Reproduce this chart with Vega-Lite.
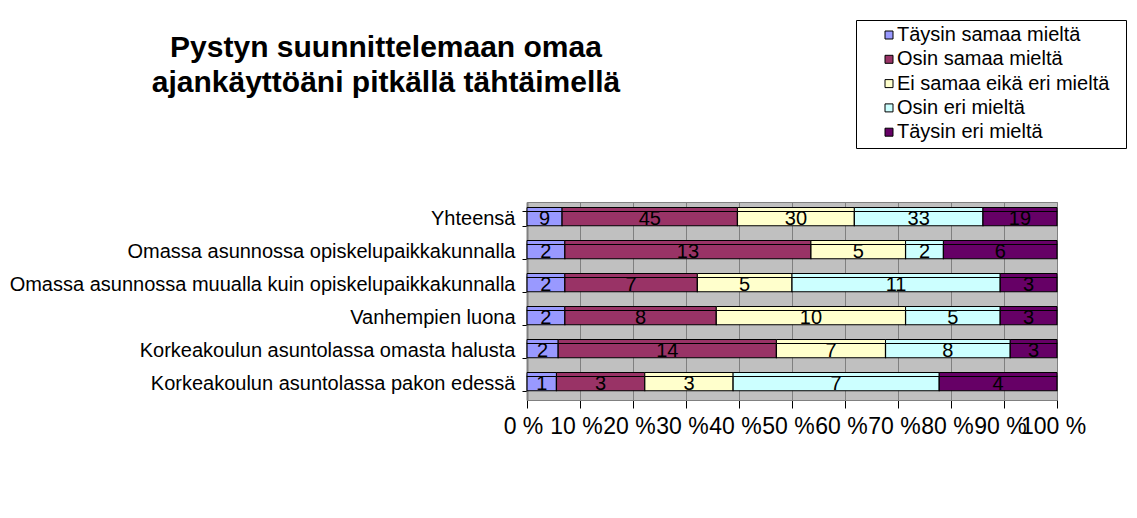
{
  "$schema": "https://vega.github.io/schema/vega-lite/v6.json",
  "autosize": {"type": "none"},
  "width": 530,
  "height": 198,
  "padding": {"left": 527, "top": 202, "right": 80, "bottom": 118},
  "background": "white",
  "title": {
    "text": ["Pystyn suunnittelemaan omaa", "ajankäyttöäni pitkällä tähtäimellä"],
    "anchor": "middle",
    "frame": "group",
    "dx": -406,
    "offset": -78,
    "fontSize": 30,
    "lineHeight": 35,
    "font": "Liberation Sans",
    "fontWeight": "bold",
    "color": "black"
  },
  "data": {
    "values": [
      {"cat": "Yhteensä", "resp": "Täysin samaa mieltä", "n": 9},
      {"cat": "Yhteensä", "resp": "Osin samaa mieltä", "n": 45},
      {"cat": "Yhteensä", "resp": "Ei samaa eikä eri mieltä", "n": 30},
      {"cat": "Yhteensä", "resp": "Osin eri mieltä", "n": 33},
      {"cat": "Yhteensä", "resp": "Täysin eri mieltä", "n": 19},
      {"cat": "Omassa asunnossa opiskelupaikkakunnalla", "resp": "Täysin samaa mieltä", "n": 2},
      {"cat": "Omassa asunnossa opiskelupaikkakunnalla", "resp": "Osin samaa mieltä", "n": 13},
      {"cat": "Omassa asunnossa opiskelupaikkakunnalla", "resp": "Ei samaa eikä eri mieltä", "n": 5},
      {"cat": "Omassa asunnossa opiskelupaikkakunnalla", "resp": "Osin eri mieltä", "n": 2},
      {"cat": "Omassa asunnossa opiskelupaikkakunnalla", "resp": "Täysin eri mieltä", "n": 6},
      {"cat": "Omassa asunnossa muualla kuin opiskelupaikkakunnalla", "resp": "Täysin samaa mieltä", "n": 2},
      {"cat": "Omassa asunnossa muualla kuin opiskelupaikkakunnalla", "resp": "Osin samaa mieltä", "n": 7},
      {"cat": "Omassa asunnossa muualla kuin opiskelupaikkakunnalla", "resp": "Ei samaa eikä eri mieltä", "n": 5},
      {"cat": "Omassa asunnossa muualla kuin opiskelupaikkakunnalla", "resp": "Osin eri mieltä", "n": 11},
      {"cat": "Omassa asunnossa muualla kuin opiskelupaikkakunnalla", "resp": "Täysin eri mieltä", "n": 3},
      {"cat": "Vanhempien luona", "resp": "Täysin samaa mieltä", "n": 2},
      {"cat": "Vanhempien luona", "resp": "Osin samaa mieltä", "n": 8},
      {"cat": "Vanhempien luona", "resp": "Ei samaa eikä eri mieltä", "n": 10},
      {"cat": "Vanhempien luona", "resp": "Osin eri mieltä", "n": 5},
      {"cat": "Vanhempien luona", "resp": "Täysin eri mieltä", "n": 3},
      {"cat": "Korkeakoulun asuntolassa omasta halusta", "resp": "Täysin samaa mieltä", "n": 2},
      {"cat": "Korkeakoulun asuntolassa omasta halusta", "resp": "Osin samaa mieltä", "n": 14},
      {"cat": "Korkeakoulun asuntolassa omasta halusta", "resp": "Ei samaa eikä eri mieltä", "n": 7},
      {"cat": "Korkeakoulun asuntolassa omasta halusta", "resp": "Osin eri mieltä", "n": 8},
      {"cat": "Korkeakoulun asuntolassa omasta halusta", "resp": "Täysin eri mieltä", "n": 3},
      {"cat": "Korkeakoulun asuntolassa pakon edessä", "resp": "Täysin samaa mieltä", "n": 1},
      {"cat": "Korkeakoulun asuntolassa pakon edessä", "resp": "Osin samaa mieltä", "n": 3},
      {"cat": "Korkeakoulun asuntolassa pakon edessä", "resp": "Ei samaa eikä eri mieltä", "n": 3},
      {"cat": "Korkeakoulun asuntolassa pakon edessä", "resp": "Osin eri mieltä", "n": 7},
      {"cat": "Korkeakoulun asuntolassa pakon edessä", "resp": "Täysin eri mieltä", "n": 4}
    ]
  },
  "transform": [
    {"stack": "n", "groupby": ["cat"], "offset": "normalize", "as": ["x0", "x1"]}
  ],
  "encoding": {
    "y": {
      "field": "cat",
      "type": "nominal",
      "sort": null,
      "scale": {"paddingInner": 0.56, "paddingOuter": 0.28},
      "axis": {
        "title": null,
        "labelFontSize": 20,
        "labelFont": "Liberation Sans",
        "labelColor": "black",
        "labelLimit": 700,
        "labelPadding": 7,
        "tickBand": "extent",
        "tickSize": 5,
        "tickColor": "black",
        "domainColor": "#808080",
        "domainWidth": 2
      }
    }
  },
  "layer": [
    {
      "mark": {"type": "bar", "stroke": "black", "strokeWidth": 1.2},
      "encoding": {
        "x": {
          "field": "x0",
          "type": "quantitative",
          "scale": {"domain": [0, 1], "nice": false},
          "axis": {
            "title": null,
            "values": [0, 0.1, 0.2, 0.3, 0.4, 0.5, 0.6, 0.7, 0.8, 0.9, 1],
            "labelExpr": "round(datum.value * 100) + ' %'",
            "labelFontSize": 23,
            "labelFont": "Liberation Sans",
            "labelColor": "black",
            "labelOverlap": false,
            "labelFlush": false,
            "labelBound": false,
            "labelOffset": -4,
            "labelPadding": 7,
            "tickSize": 8,
            "tickColor": "black",
            "domainColor": "#808080",
            "grid": true,
            "gridColor": "#808080",
            "gridWidth": 1
          }
        },
        "x2": {"field": "x1"},
        "color": {
          "field": "resp",
          "type": "nominal",
          "scale": {
            "domain": ["Täysin samaa mieltä", "Osin samaa mieltä", "Ei samaa eikä eri mieltä", "Osin eri mieltä", "Täysin eri mieltä"],
            "range": ["#9999FF", "#993366", "#FFFFCC", "#CCFFFF", "#660066"]
          },
          "legend": {
            "orient": "none",
            "legendX": 329,
            "legendY": -182,
            "title": "\u00a0",
            "titleOrient": "right",
            "titlePadding": 12,
            "titleFontSize": 20,
            "labelFontSize": 20,
            "labelFont": "Liberation Sans",
            "labelColor": "black",
            "labelLimit": 500,
            "labelOffset": -2,
            "symbolType": "square",
            "symbolSize": 64,
            "symbolStrokeColor": "black",
            "symbolStrokeWidth": 1,
            "symbolOffset": 18,
            "strokeColor": "black",
            "fillColor": "white",
            "padding": 5,
            "rowPadding": 4.3
          }
        }
      }
    },
    {
      "mark": {"type": "bar", "stroke": "black", "strokeWidth": 1, "height": 4, "yOffset": -9},
      "encoding": {
        "x": {"field": "x0", "type": "quantitative"},
        "x2": {"field": "x1"},
        "color": {"field": "resp", "type": "nominal"}
      }
    },
    {
      "transform": [
        {"fold": ["x0", "x1"], "as": ["k", "v"]},
        {"aggregate": [{"op": "mean", "field": "v", "as": "mid"}], "groupby": ["cat", "resp", "n"]}
      ],
      "mark": {"type": "text", "fontSize": 20, "font": "Liberation Sans", "color": "black", "baseline": "middle"},
      "encoding": {
        "x": {"field": "mid", "type": "quantitative"},
        "text": {"field": "n", "type": "quantitative"}
      }
    }
  ],
  "config": {
    "font": "Liberation Sans",
    "view": {"fill": "#C0C0C0", "stroke": "#808080", "strokeWidth": 1}
  }
}
